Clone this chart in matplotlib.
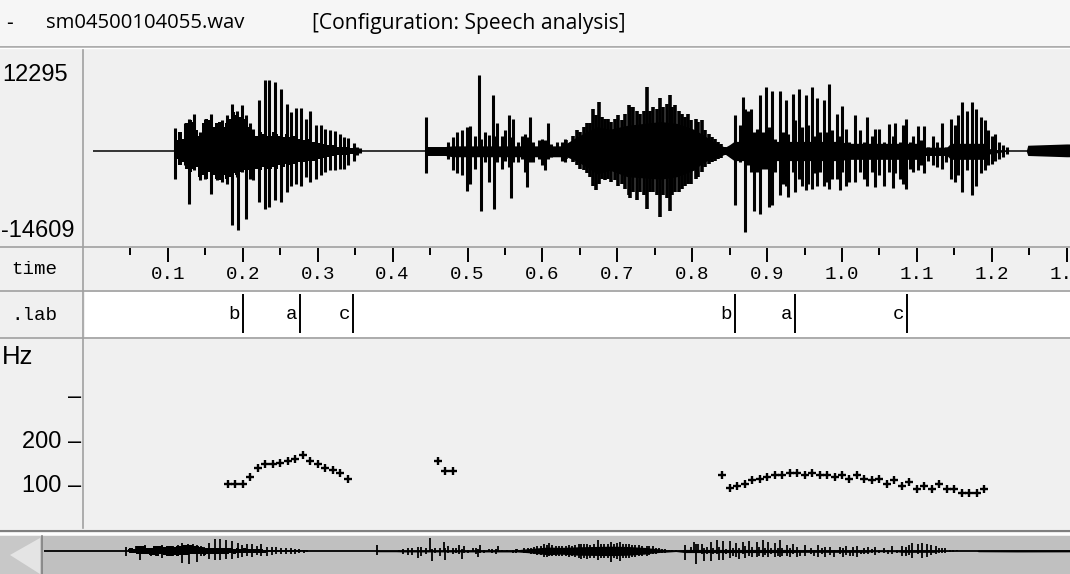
import matplotlib
matplotlib.use("Agg")
import matplotlib.pyplot as plt
from matplotlib.lines import Line2D
from matplotlib.patches import Rectangle, Polygon
import numpy as np

W, H = 1070, 574
BG = "#f0f0f0"
MONO = "Liberation Mono"
SANS = "Liberation Sans"
UI = "Open Sans"

# ---------------------------------------------------------------- data
file_name = "sm04500104055.wav"
config_name = "[Configuration: Speech analysis]"
amp_max, amp_min = 12295, -14609

# pulse peaks per stretch of speech: time (ms), upper and lower extreme (samples)
w1_ms = [110, 116, 123, 128, 135, 143, 150, 158, 165, 172,
         179, 185, 192, 194, 199, 204, 210, 214, 221, 229,
         235, 243, 251, 259, 265, 271, 278, 284, 290, 298,
         304, 310, 317, 323, 330, 335, 341, 348, 352, 357]
w1_hi = [3600, 1700, 4300, 5000, 5700, 3000, 5000, 5800, 4300, 4800,
         5600, 7400, 6300, 3500, 7100, 5600, 4300, 3500, 7900, 11100,
         11100, 10800, 9700, 7400, 6100, 6700, 6700, 5000, 6200, 4100,
         4100, 3500, 3200, 3100, 2700, 2200, 2000, 1300, 600, 400]
w1_lo = [-4300, -1700, -2200, -8200, -3000, -4600, -4300, -6700, -4600, -4800,
         -5100, -11600, -4100, -12400, -3300, -10600, -4300, -4600, -8000, -9000,
         -8700, -7700, -8000, -6400, -5400, -5100, -5400, -4100, -4800, -4300,
         -3800, -3300, -3000, -2900, -2800, -2800, -2200, -1500, -700, -300]

# dense body of the first stretch (ms, upper, lower)
w1m_ms = [112, 116, 121, 125, 130, 134, 138, 143, 147, 152,
          156, 161, 165, 170, 174, 179, 183, 187, 192, 196,
          201, 205, 210, 214, 219, 223, 227, 232, 236, 241,
          245, 250, 254, 259, 263, 268, 272, 276, 281, 285,
          290, 294, 299, 303, 308, 312, 321, 330, 339, 348, 357]
w1m_hi = [1700, 3000, 1900, 4300, 4800, 4500, 3200, 2400, 4300, 5000,
          4800, 3700, 4300, 4500, 3700, 4300, 5000, 6100, 5600, 5300,
          5000, 4300, 3700, 3200, 2400, 3000, 2700, 2400, 2400, 3000,
          2700, 2400, 2200, 2700, 2200, 2400, 2200, 1900, 1700, 1900,
          1800, 1400, 1400, 1300, 1100, 1000, 900, 700, 600, 500, 300]
w1m_lo = [-1200, -2200, -1700, -2800, -3300, -2800, -2500, -4100, -3800, -4300,
          -3300, -3800, -4300, -4600, -3800, -4300, -4100, -3500, -3800, -3300,
          -3000, -3300, -3000, -3500, -2800, -3000, -2500, -2800, -2800, -2500,
          -2800, -2200, -2500, -2000, -2200, -2000, -2000, -1700, -1700, -1500,
          -1500, -1500, -1200, -1200, -1100, -900, -800, -700, -600, -400, -300]

w2_ms = [445, 474, 480, 486, 492, 499, 503, 510, 516, 518,
         523, 529, 534, 536, 540, 546, 550, 555, 558, 561,
         567, 573, 577, 580, 583, 588, 595, 599, 604, 607,
         612, 619, 626, 630]
w2_hi = [5300, 1400, 2200, 3000, 3200, 3700, 3900, 2400, 11900, 1900,
         3000, 2500, 8800, 2400, 4400, 2400, 3200, 5600, 2200, 5000,
         1400, 2400, 2700, 2200, 5300, 1400, 1700, 1900, 1700, 4400,
         1100, 1400, 1400, 1900]
w2_lo = [-3500, -1200, -3000, -3500, -3800, -6300, -5100, -2800, -200, -9300,
         -1700, -4800, -200, -9000, -1700, -2800, -1500, -2500, -7400, -1700,
         -1700, -1200, -3300, -5600, -1700, -1700, -1200, -2200, -3000, -1200,
         -900, -700, -1500, -1700]

# dense stretch after the second onset
w2v_ms = [632, 641, 646, 650, 655, 659, 664, 668, 672, 675,
          679, 684, 688, 692, 697, 701, 706, 710, 715, 717,
          721, 726, 730, 735, 740, 744, 748, 753, 757, 761,
          766, 770, 773, 777, 782, 786, 790, 795, 799, 805,
          808, 813, 817, 822, 826, 830, 835, 839, 844]
w2v_hi = [1700, 2400, 3200, 3000, 3700, 4300, 4300, 6500, 5600, 7600,
          5300, 5000, 5000, 4500, 5000, 5600, 4800, 5800, 7100, 6900,
          6900, 6300, 5800, 6300, 10000, 6300, 6900, 6600, 8200, 6900,
          7400, 8800, 6900, 7100, 6300, 5800, 5300, 5800, 4800, 5000,
          4500, 4800, 3200, 2700, 2200, 1900, 1400, 1100, 600]
w2v_lo = [-1200, -1700, -2200, -2800, -3000, -3500, -4100, -5400, -6100, -5100,
          -4300, -4600, -4300, -4800, -4600, -5400, -5100, -5900, -6900, -7400,
          -6400, -7700, -6400, -6900, -9000, -6400, -6400, -6900, -10300, -6900,
          -7400, -9300, -6900, -6400, -6400, -5900, -5400, -5100, -5100, -4300,
          -4100, -3300, -2500, -2000, -1700, -1500, -1300, -1100, -700]

w3_ms = [857, 864, 868, 871, 874, 879, 882, 886, 891, 894,
         899, 902, 907, 911, 917, 921, 925, 928, 934, 937,
         942, 946, 952, 955, 960, 963, 967, 971, 976, 980,
         983, 986, 993, 997, 1000, 1006, 1010, 1017, 1024, 1029,
         1034, 1040, 1044, 1050, 1056, 1063, 1068, 1071, 1077, 1081,
         1086, 1091, 1095, 1101, 1106, 1110, 1115, 1122, 1127, 1133,
         1139, 1146, 1151, 1155, 1160, 1167, 1173, 1179, 1185, 1191,
         1195, 1200, 1204, 1210, 1215, 1220]
w3_hi = [5600, 4000, 8400, 6600, 6300, 6600, 3000, 3500, 8700, 3000,
         10000, 3700, 9300, 1900, 9300, 3000, 7900, 2700, 8900, 4800,
         9600, 3700, 8800, 4000, 10000, 2400, 8200, 3000, 7900, 3000,
         10500, 3200, 5800, 2400, 7000, 3500, 1400, 5600, 3200, 1400,
         5300, 2400, 3500, 3500, 1400, 4200, 2400, 4300, 1400, 4000,
         5000, 1400, 2400, 3900, 1700, 3900, 600, 2400, 1400, 4300,
         600, 5000, 4000, 5600, 7600, 6200, 7600, 6500, 5300, 4800,
         3200, 2400, 2700, 1400, 900, 600]
w3_lo = [-8500, -1700, -1200, -12600, -2200, -3300, -9300, -3300, -9800, -2800,
         -2800, -8700, -8500, -3300, -6900, -5100, -5400, -7200, -3300, -6400,
         -4300, -5400, -6100, -5100, -5900, -3500, -5400, -3300, -5400, -4800,
         -5900, -4300, -4300, -6100, -3300, -5400, -4800, -4800, -3300, -4300,
         -5400, -3300, -5600, -3800, -5400, -3300, -5800, -3500, -4300, -5100,
         -6000, -2800, -3300, -3000, -2200, -3500, -1500, -2200, -2500, -2800,
         -1700, -4300, -4800, -3800, -6400, -3000, -6900, -5400, -3500, -3000,
         -2200, -2000, -1500, -1200, -900, -400]

# low-level part of the signal between pulses (ms, upper, lower)
core_ms = [0, 443, 446, 470, 480, 630, 632, 646, 659, 673, 690, 713, 735,
           758, 780, 802, 815, 824, 833, 844, 850, 856, 900, 905, 1000,
           1005, 1100, 1105, 1140, 1145, 1190, 1195, 1222, 1246, 1248,
           1300, 1380, 1385, 1400]
core_hi = [0, 0, 700, 700, 800, 800, 1200, 2200, 3000, 3800, 3400, 4000, 4300,
           4600, 4300, 3400, 2500, 1800, 1100, 600, 1000, 1500, 1500, 1500, 1500,
           1200, 1200, 600, 600, 1200, 1200, 400, 0, 0, 900,
           1100, 1000, 0, 0]
core_lo = [0, 0, -700, -700, -900, -900, -900, -1600, -2500, -3600, -3000, -4000, -4200,
           -4400, -4000, -3000, -1800, -1300, -1000, -500, -1000, -1500, -1500, -1500, -1500,
           -1300, -1300, -700, -700, -1300, -1300, -500, 0, 0, -700,
           -900, -800, 0, 0]

time_major = [0.1, 0.2, 0.3, 0.4, 0.5, 0.6, 0.7, 0.8, 0.9, 1.0, 1.1, 1.2, 1.3]
time_minor = [0.05, 0.15, 0.25, 0.35, 0.45, 0.55, 0.65, 0.75, 0.85, 0.95, 1.05, 1.15, 1.25]

lab_t = [0.200, 0.276, 0.347, 0.857, 0.937, 1.087]
lab_txt = ["b", "a", "c", "b", "a", "c"]

f0_t1 = [0.18, 0.19, 0.20, 0.21, 0.22, 0.23, 0.24, 0.25, 0.26, 0.27,
         0.28, 0.29, 0.30, 0.31, 0.32, 0.33, 0.34]
f0_hz1 = [100, 100, 100, 116, 136, 144, 144, 147, 151, 155,
          164, 152, 144, 136, 132, 124, 112]
f0_t2 = [0.46, 0.47, 0.48]
f0_hz2 = [152, 128, 128]
f0_t3 = [0.84, 0.85, 0.86, 0.87, 0.88, 0.89, 0.90, 0.91, 0.92, 0.93,
         0.94, 0.95, 0.96, 0.97, 0.98, 0.99, 1.00, 1.01, 1.02, 1.03,
         1.04, 1.05, 1.06, 1.07, 1.08, 1.09, 1.10, 1.11, 1.12, 1.13,
         1.14, 1.15, 1.16, 1.17, 1.18, 1.19]
f0_hz3 = [120, 92, 96, 100, 108, 112, 116, 120, 120, 124,
          124, 120, 124, 120, 120, 116, 120, 112, 120, 112,
          108, 112, 100, 108, 96, 104, 88, 96, 88, 100,
          88, 88, 80, 80, 80, 88]

hz_ticks = [100, 200, 300]
hz_labels = ["100 –", "200 –", "–"]


# ---------------------------------------------------------------- helpers
def px_axes(fig, x0, y0, x1, y1, **kw):
    """Axes placed in pixel coordinates (origin top-left)."""
    return fig.add_axes([x0 / W, 1 - y1 / H, (x1 - x0) / W, (y1 - y0) / H], **kw)


def bare(ax, face):
    ax.set_facecolor(face)
    for s in ax.spines.values():
        s.set_visible(False)
    ax.set_xticks([])
    ax.set_yticks([])


def hline(fig, y, x0=0, x1=W, color="#a0a0a0", lw=1.0):
    fig.add_artist(Line2D([x0 / W, x1 / W], [1 - y / H, 1 - y / H],
                          transform=fig.transFigure, color=color, lw=lw))


def vline(fig, x, y0, y1, color="#a0a0a0", lw=1.0):
    fig.add_artist(Line2D([x / W, x / W], [1 - y0 / H, 1 - y1 / H],
                          transform=fig.transFigure, color=color, lw=lw))


def draw_signal(ax, lw_pulse, lw_dense, lw_base=1.1):
    ms = np.concatenate([w1_ms, w2_ms, w3_ms]) / 1000.0
    hi = np.concatenate([w1_hi, w2_hi, w3_hi])
    lo = np.concatenate([w1_lo, w2_lo, w3_lo])
    ax.plot([0, 1.4], [0, 0], color="black", lw=lw_base, solid_capstyle="butt")
    ax.fill_between(np.asarray(core_ms) / 1000.0, core_lo, core_hi, color="black", lw=0)
    ax.fill_between(np.asarray(w1m_ms) / 1000.0, w1m_lo, w1m_hi, step="mid",
                    color="black", lw=0)
    ax.vlines(ms, lo, hi, color="black", lw=lw_pulse)
    ax.vlines(np.asarray(w2v_ms) / 1000.0, w2v_lo, w2v_hi, color="black", lw=lw_dense)


T_LEFT, T_RIGHT = -8 / 749, 977 / 749

fig = plt.figure(figsize=(W / 100, H / 100), dpi=100)
fig.patch.set_facecolor(BG)

# title line
fig.add_artist(Rectangle((0, 1 - 46 / H), 1, 46 / H, transform=fig.transFigure,
                         color="#f6f6f6", lw=0))
fig.text(6 / W, 1 - 23 / H, "-", fontsize=15, family=UI, va="center")
fig.text(46 / W, 1 - 23 / H, file_name, fontsize=14.6, family=UI, va="center")
fig.text(312 / W, 1 - 23 / H, config_name, fontsize=15.2, family=UI, va="center")
hline(fig, 46.5, color="#a0a0a0", lw=1.2)
hline(fig, 48, color="#ffffff", lw=1.0)

# ---- waveform panel
ax_w = px_axes(fig, 85, 54, W, 246)
bare(ax_w, BG)
draw_signal(ax_w, 2.2, 2.6)
ax_w.set_xlim(T_LEFT, T_RIGHT)
ax_w.set_ylim((151 - 246) * 156, (151 - 54) * 156)
fig.text(2 / W, 1 - 75 / H, f"{amp_max}", fontsize=17, family=SANS, va="center")
fig.text(1 / W, 1 - 231 / H, f"{amp_min}", fontsize=17, family=SANS, va="center")

# ---- time ruler
ax_t = px_axes(fig, 85, 248, W, 290)
ax_t.set_facecolor(BG)
for s in ax_t.spines.values():
    s.set_visible(False)
ax_t.set_xlim(T_LEFT, T_RIGHT)
ax_t.set_ylim(0, 1)
ax_t.set_yticks([])
ax_t.xaxis.set_ticks_position("top")
ax_t.set_xticks(time_major)
ax_t.set_xticks(time_minor, minor=True)
ax_t.set_xticklabels([])
ax_t.tick_params(axis="x", which="major", direction="in", length=10, width=1.4,
                 color="black", pad=0)
ax_t.tick_params(axis="x", which="minor", direction="in", length=5, width=1.4,
                 color="black")
for t in time_major:
    ax_t.text(t, 0.36, f"{t:.1f}", ha="center", va="center", fontsize=13.8,
              family=MONO, clip_on=True)
fig.text(57 / W, 1 - 270 / H, "time", fontsize=13.8, family=MONO, va="center", ha="right")

# ---- label tier
ax_l = px_axes(fig, 85, 292, W, 337)
bare(ax_l, "white")
ax_l.set_xlim(T_LEFT, T_RIGHT)
ax_l.set_ylim(0, 1)
ax_l.vlines(lab_t, 0.08, 0.95, color="black", lw=1.4)
for t, s in zip(lab_t, lab_txt):
    ax_l.annotate(s, (t, 0.5), xytext=(-2, 0), textcoords="offset points",
                  ha="right", va="center", fontsize=13.8, family=MONO)
fig.text(57 / W, 1 - 315 / H, ".lab", fontsize=13.8, family=MONO, va="center", ha="right")

# ---- pitch panel
ax_p = px_axes(fig, 85, 340, W, 527)
ax_p.set_facecolor(BG)
for s in ax_p.spines.values():
    s.set_visible(False)
ax_p.set_xlim(T_LEFT, T_RIGHT)
ax_p.set_ylim((529 - 527) / 0.45, (529 - 340) / 0.45)
ax_p.set_xticks([])
ax_p.set_yticks(hz_ticks)
ax_p.set_yticklabels(hz_labels, fontsize=17, family=SANS)
ax_p.tick_params(axis="y", length=0, pad=3)
for tt, hz in ((f0_t1, f0_hz1), (f0_t2, f0_hz2), (f0_t3, f0_hz3)):
    ax_p.plot(tt, hz, ls="none", marker="+", ms=5.5, mew=1.7, color="black")
fig.text(2 / W, 1 - 357 / H, "Hz", fontsize=18.5, family=SANS, va="center")

# panel separators
for y in (246.5, 291, 338):
    hline(fig, y, color="#a0a0a0", lw=1.2)
vline(fig, 83, 50, 528, color="#a0a0a0", lw=1.2)

# ---- overview strip
ax_o = px_axes(fig, 42, 536, W, 574)
bare(ax_o, "#c0c0c0")
draw_signal(ax_o, 1.3, 1.3, lw_base=1.3)
ax_o.set_xlim(-2 / 750, 1028 / 750)
ax_o.set_ylim(-23 * 950, 15 * 950)
hline(fig, 531, color="#808080", lw=1.5)
hline(fig, 534, color="#ffffff", lw=1.5)
fig.add_artist(Rectangle((0, 0), 42 / W, 1 - 536 / H, transform=fig.transFigure,
                         color="#c8c8c8", lw=0))
fig.add_artist(Polygon([(10 / W, 1 - 555 / H), (40 / W, 1 - 538 / H), (40 / W, 0)],
                       closed=True, transform=fig.transFigure, color="#e4e4e4", lw=0))
vline(fig, 41.5, 536, H, color="#808080", lw=1.2)

fig.savefig("out.png", dpi=100, facecolor=fig.get_facecolor())
